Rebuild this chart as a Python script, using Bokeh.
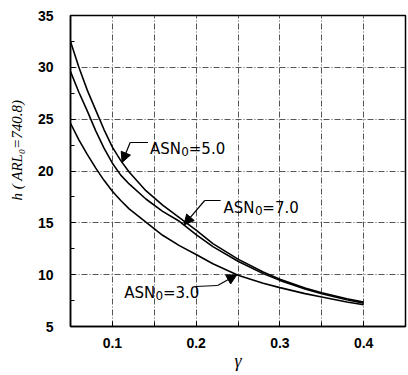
from bokeh.plotting import figure
from bokeh.models import Range1d, FixedTicker, Label, Arrow, NormalHead, Title
from bokeh.embed import file_html
from bokeh.resources import INLINE
import numpy as np

# ---- data ----
gamma = [0.05, 0.06, 0.07, 0.08, 0.09, 0.10, 0.11, 0.12, 0.14, 0.16, 0.18,
         0.20, 0.22, 0.25, 0.28, 0.30, 0.33, 0.35, 0.38, 0.40]
h_asn5 = [32.5, 30.0, 27.8, 25.9, 24.0, 22.3, 21.0, 19.9, 18.1, 16.7, 15.5,
          14.3, 13.0, 11.5, 10.25, 9.55, 8.72, 8.25, 7.68, 7.35]
h_asn7 = [29.6, 27.6, 25.8, 23.9, 22.2, 20.75, 19.6, 18.75, 17.3, 16.1, 15.15,
          13.86, 12.7, 11.3, 10.1, 9.45, 8.62, 8.15, 7.58, 7.25]
h_asn3 = [24.6, 23.0, 21.6, 20.3, 19.1, 18.05, 17.15, 16.35, 15.06, 13.8, 12.8,
          11.95, 11.05, 9.95, 9.17, 8.75, 8.17, 7.85, 7.36, 7.1]

x_ticks = [0.1, 0.2, 0.3, 0.4]
x_minor = [0.05, 0.15, 0.25, 0.35, 0.45]
x_grid = [0.1, 0.15, 0.2, 0.25, 0.3, 0.35, 0.4]
y_ticks = [5, 10, 15, 20, 25, 30, 35]
y_minor = [7.5, 12.5, 17.5, 22.5, 27.5, 32.5]
x_range = (0.05, 0.45)
y_range = (5, 35)
x_title = "γ"
y_title = "h ( ARL₀=740.8)"

# ---- layout ----
W, H = 407, 374
BL, BR, BT, BB = 68, 2, 15, 48
FW, FH = W - BL - BR, H - BT - BB
FL, FT = BL, BT
SX = FW / (x_range[1] - x_range[0])
SY = FH / (y_range[1] - y_range[0])

def X(px):
    return x_range[0] + (px - FL) / SX

def Y(py):
    return y_range[1] - (py - FT) / SY

p = figure(width=W, height=H, output_backend="svg", toolbar_location=None,
           x_range=Range1d(*x_range), y_range=Range1d(*y_range),
           min_border_left=BL, min_border_right=BR, min_border_top=BT,
           min_border_bottom=BB)
p.background_fill_color = "white"
p.border_fill_color = "white"
p.outline_line_color = "black"
p.outline_line_width = 1.5

# axes
p.xaxis.ticker = FixedTicker(ticks=x_ticks, minor_ticks=x_minor)
p.yaxis.ticker = FixedTicker(ticks=y_ticks, minor_ticks=y_minor)
for ax in (p.xaxis[0], p.yaxis[0]):
    ax.axis_line_color = "black"
    ax.axis_line_width = 1.5
    ax.major_tick_in = 5
    ax.major_tick_out = 0
    ax.minor_tick_in = 4
    ax.minor_tick_out = 0
    ax.major_tick_line_color = "black"
    ax.minor_tick_line_color = "black"
    ax.major_label_text_font = "Liberation Sans"
    ax.major_label_text_font_style = "bold"
    ax.major_label_text_font_size = "14px"
    ax.major_label_text_color = "black"
p.xaxis.major_label_standoff = 11
p.yaxis.major_label_standoff = 17

p.xaxis.axis_label = x_title
p.xaxis.axis_label_text_font = "Liberation Serif"
p.xaxis.axis_label_text_font_style = "italic"
p.xaxis.axis_label_text_color = "black"
p.xaxis.axis_label_text_font_size = "18px"
p.xaxis.axis_label_standoff = 0

# y title as a side title so it can be shifted along the axis
p.add_layout(Title(text=y_title, align="left", vertical_align="top", offset=126, standoff=16,
                   text_font="Liberation Serif", text_font_style="italic",
                   text_font_size="15px", text_color="black"), "left")

# grid
p.xgrid.ticker = FixedTicker(ticks=x_grid)
p.ygrid.ticker = FixedTicker(ticks=y_ticks)
for g in (p.xgrid[0], p.ygrid[0]):
    g.grid_line_color = "#555555"
    g.grid_line_dash = "6 2 1 2"
    g.grid_line_width = 1

# curves
for hv in (h_asn5, h_asn7, h_asn3):
    p.line(gamma, hv, line_color="black", line_width=1.6)

# annotations: ASN labels with leaders and arrows
def annot(main_val, left_px, base_py, curve, tip_x, leader_pts):
    p.add_layout(Label(x=X(left_px), y=Y(base_py), text="ASN", text_font="DejaVu Sans",
                       text_font_size="15px", text_baseline="alphabetic", text_color="black"))
    p.add_layout(Label(x=X(left_px + 31.5), y=Y(base_py + 3), text="0", text_font="DejaVu Sans",
                       text_font_size="12px", text_baseline="alphabetic", text_color="black"))
    p.add_layout(Label(x=X(left_px + 39), y=Y(base_py), text="=" + main_val, text_font="DejaVu Sans",
                       text_font_size="15px", text_baseline="alphabetic", text_color="black"))
    tip_y = float(np.interp(tip_x, gamma, curve))
    pts = leader_pts
    for (ax_, ay_), (bx_, by_) in zip(pts[:-1], pts[1:]):
        p.segment(x0=[X(ax_)], y0=[Y(ay_)], x1=[X(bx_)], y1=[Y(by_)],
                  line_color="black", line_width=1.2)
    lx, ly = pts[-1]
    p.add_layout(Arrow(end=NormalHead(size=10, fill_color="black", line_color="black", line_width=1),
                       x_start=X(lx), y_start=Y(ly), x_end=tip_x, y_end=tip_y,
                       line_color="black", line_width=1.2))

annot("5.0", 148, 148, h_asn5, 0.1116, [(146, 142), (128, 142)])
annot("7.0", 222, 207, h_asn7, 0.1855, [(219, 200), (203, 200)])
annot("3.0", 122, 292, h_asn3, 0.2487, [(194, 286), (216, 285)])

open("out.html", "w").write(file_html(p, INLINE))
